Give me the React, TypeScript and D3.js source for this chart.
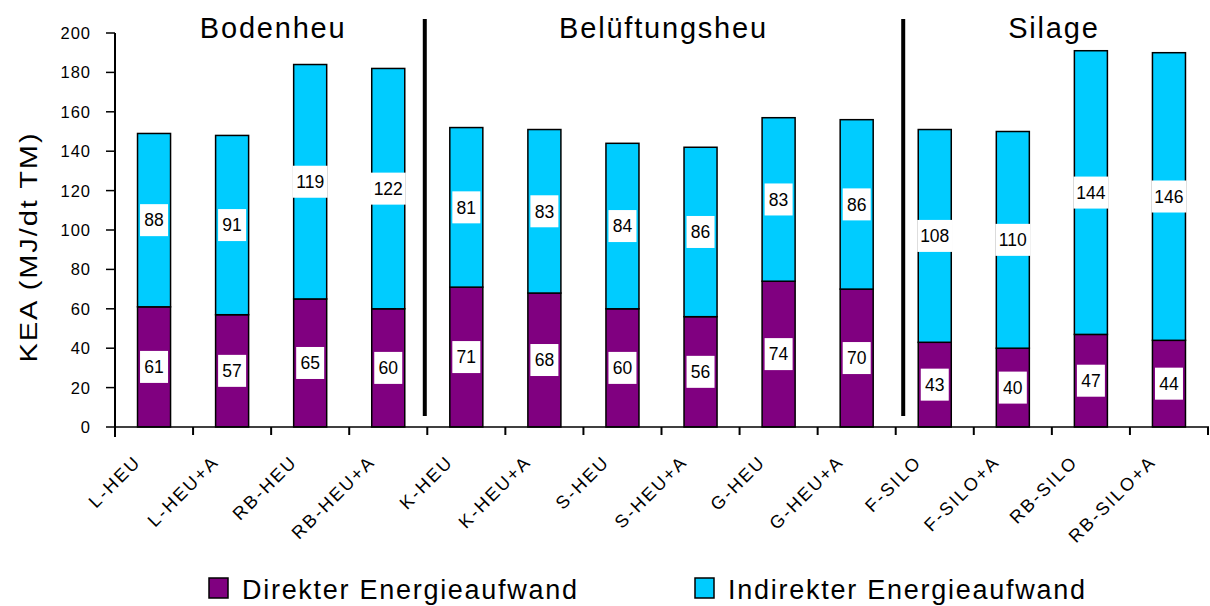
import React from "react";
import * as d3 from "d3";

const categories = [
  "L-HEU", "L-HEU+A", "RB-HEU", "RB-HEU+A",
  "K-HEU", "K-HEU+A", "S-HEU", "S-HEU+A", "G-HEU", "G-HEU+A",
  "F-SILO", "F-SILO+A", "RB-SILO", "RB-SILO+A",
];
const direkt = [61, 57, 65, 60, 71, 68, 60, 56, 74, 70, 43, 40, 47, 44];
const indirekt = [88, 91, 119, 122, 81, 83, 84, 86, 83, 86, 108, 110, 144, 146];
const yTicks = [0, 20, 40, 60, 80, 100, 120, 140, 160, 180, 200];
const groups = [
  { name: "Bodenheu", from: 0, to: 3 },
  { name: "Belüftungsheu", from: 4, to: 9 },
  { name: "Silage", from: 10, to: 13 },
];
const seriesNames = ["Direkter Energieaufwand", "Indirekter Energieaufwand"];
const colors = ["#800080", "#00CCFF"];

const FONT = "'Liberation Sans', Arial, sans-serif";

export default function App() {
  const W = 1210, H = 606;
  const x0 = 115, x1 = 1208;
  const y = d3.scaleLinear().domain([0, 200]).range([427, 33]);
  const x = d3.scaleBand<string>().domain(categories).range([x0, x1]).paddingInner(0.577).paddingOuter(0.2885);
  const step = x.step();
  const bw = x.bandwidth();
  const boundaries = d3.range(categories.length + 1).map((i) => x0 + i * step);

  const stacked = categories.map((c, i) => {
    const segs = [
      { v: direkt[i], y0: 0, y1: direkt[i], color: colors[0] },
      { v: indirekt[i], y0: direkt[i], y1: direkt[i] + indirekt[i], color: colors[1] },
    ];
    return { c, i, segs };
  });

  const dividers = [
    { x: boundaries[4] - 2.5 },
    { x: boundaries[10] + 7.5 },
  ];

  return (
    <svg width={W} height={H} style={{ position: "absolute", left: 0, top: 0, background: "#fff" }} fontFamily={FONT}>
      {/* group titles */}
      {groups.map((g) => {
        const cx = (boundaries[g.from] + boundaries[g.to + 1]) / 2;
        return (
          <text key={g.name} x={cx + 2} y={38} textAnchor="middle" fontSize={29} letterSpacing={1.8} fill="#000">
            {g.name}
          </text>
        );
      })}
      {/* dividers */}
      {dividers.map((d, k) => (
        <line key={k} x1={d.x} x2={d.x} y1={19} y2={416} stroke="#000" strokeWidth={4} />
      ))}
      {/* bars */}
      {stacked.map((b) =>
        b.segs.map((s, k) => (
          <rect
            key={b.c + k}
            x={x(b.c)}
            y={y(s.y1)}
            width={bw}
            height={y(s.y0) - y(s.y1)}
            fill={s.color}
            stroke="#000"
            strokeWidth={1.5}
          />
        ))
      )}
      {/* value labels */}
      {stacked.map((b) =>
        b.segs.map((s, k) => {
          const cx = (x(b.c) as number) + bw / 2;
          const cy = (y(s.y0) + y(s.y1)) / 2;
          const txt = String(s.v);
          const w = txt.length * 7 + 14;
          return (
            <g key={"l" + b.c + k}>
              <rect x={cx - w / 2} y={cy - 16} width={w} height={32} fill="#fff" />
              <text x={cx} y={cy} dy="0.36em" textAnchor="middle" fontSize={17.5} fill="#000">
                {txt}
              </text>
            </g>
          );
        })
      )}
      {/* y axis */}
      <line x1={x0} x2={x0} y1={y(200)} y2={437} stroke="#000" strokeWidth={2} />
      {yTicks.map((t) => (
        <g key={t}>
          <line x1={x0 - 9} x2={x0} y1={y(t)} y2={y(t)} stroke="#000" strokeWidth={1.5} />
          <text x={91} y={y(t)} dy="0.36em" textAnchor="end" fontSize={16.5} letterSpacing={1} fill="#000">
            {t}
          </text>
        </g>
      ))}
      <text
        transform={`translate(29,247) rotate(-90)`}
        textAnchor="middle"
        dy="0.36em"
        fontSize={23}
        letterSpacing={1.5}
        textLength={231}
        lengthAdjust="spacingAndGlyphs"
        fill="#000"
      >
        KEA (MJ/dt TM)
      </text>
      {/* x axis */}
      <line x1={x0} x2={x1 + 1} y1={427} y2={427} stroke="#000" strokeWidth={1.5} />
      {boundaries.map((bx, i) => (
        <line key={i} x1={bx} x2={bx} y1={427} y2={435} stroke="#000" strokeWidth={2} />
      ))}
      {categories.map((c) => {
        const cx = (x(c) as number) + bw / 2;
        return (
          <text
            key={c}
            transform={`translate(${cx - 12},${463}) rotate(-45)`}
            textAnchor="end"
            fontSize={18}
            letterSpacing={2.2}
            fill="#000"
          >
            {c}
          </text>
        );
      })}
      {/* legend */}
      {seriesNames.map((n, i) => {
        const lx = i === 0 ? 209 : 695;
        const tl = i === 0 ? 335 : 357;
        return (
          <g key={n}>
            <rect x={lx} y={578} width={19} height={20} fill={colors[i]} stroke="#000" strokeWidth={1.5} />
            <text x={lx + 33} y={599} fontSize={27} textLength={tl} lengthAdjust="spacing" fill="#000">
              {n}
            </text>
          </g>
        );
      })}
    </svg>
  );
}
